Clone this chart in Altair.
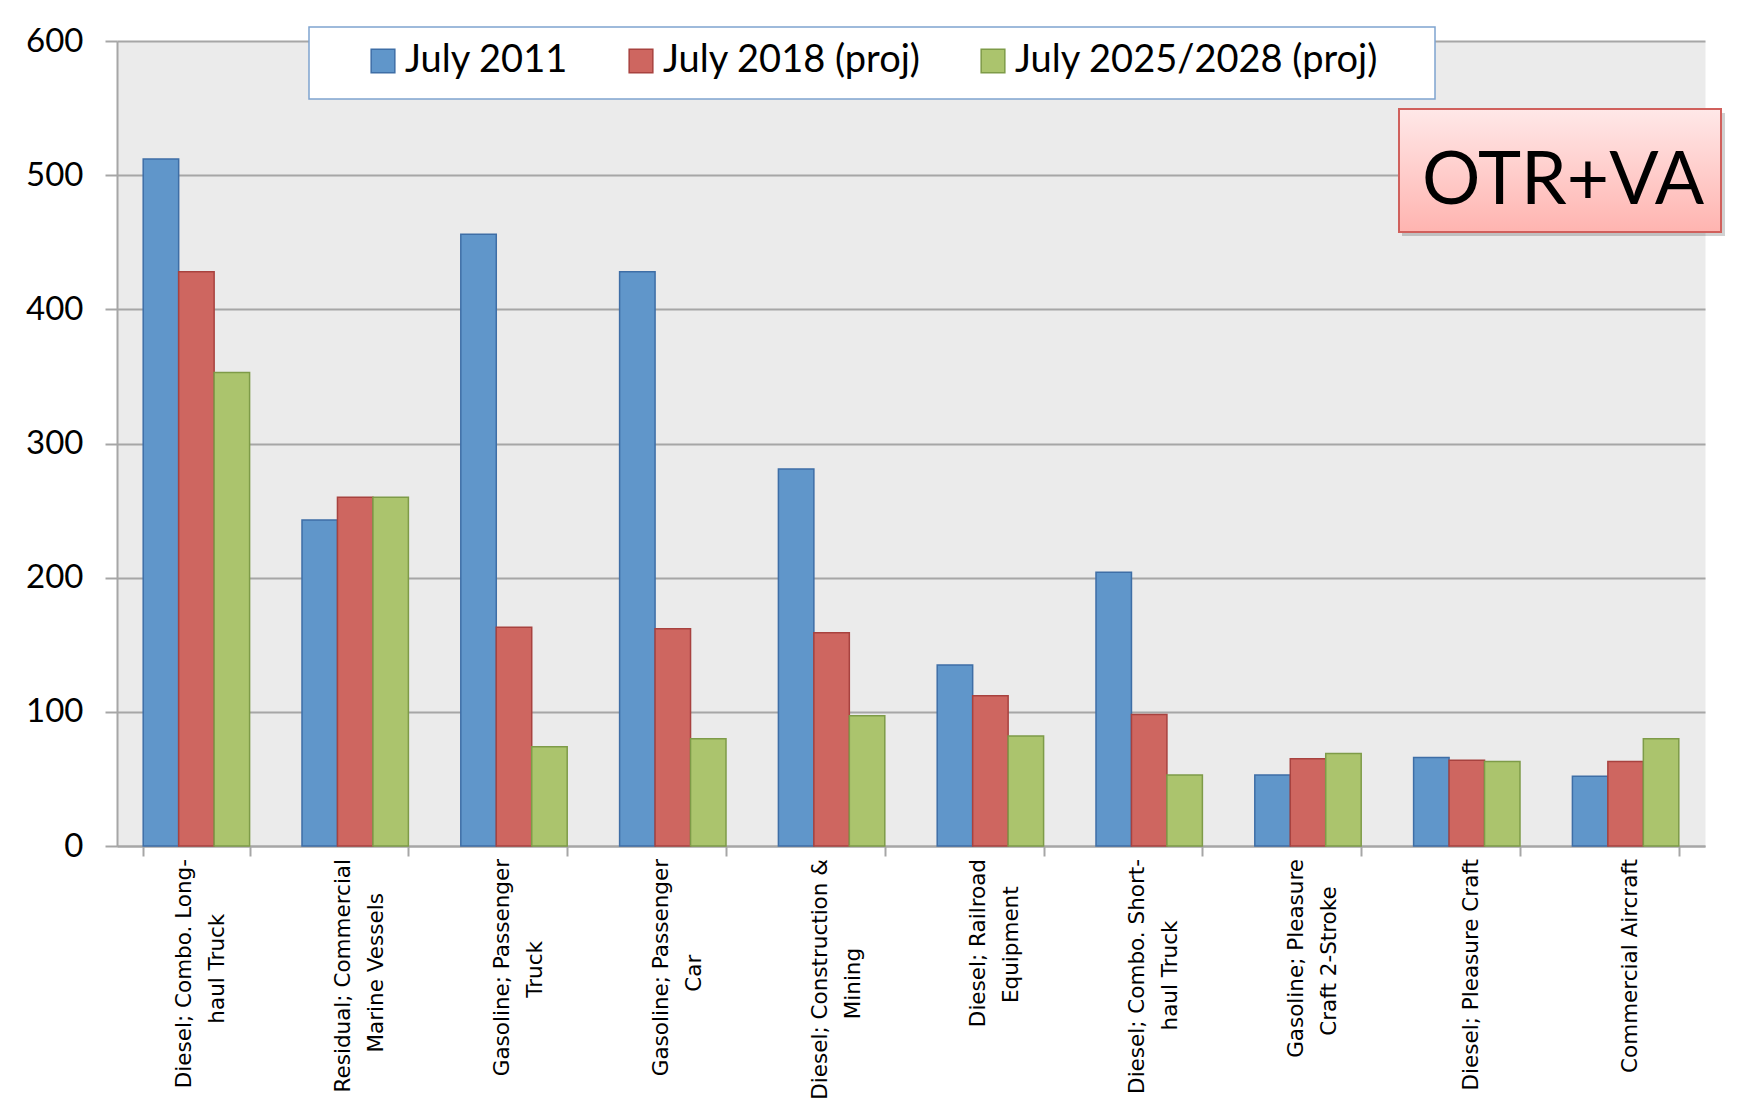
import altair as alt
import pandas as pd

# ---------------- data ----------------
category_lines = [
    ["Diesel; Combo. Long-", "haul Truck"],
    ["Residual; Commercial", "Marine Vessels"],
    ["Gasoline; Passenger", "Truck"],
    ["Gasoline; Passenger", "Car"],
    ["Diesel; Construction &", "Mining"],
    ["Diesel; Railroad", "Equipment"],
    ["Diesel; Combo. Short-", "haul Truck"],
    ["Gasoline; Pleasure", "Craft 2-Stroke"],
    ["Diesel; Pleasure Craft"],
    ["Commercial Aircraft"],
]
series = ["July 2011", "July 2018 (proj)", "July 2025/2028 (proj)"]
v2011 = [512, 243, 456, 428, 281, 135, 204, 53, 66, 52]
v2018 = [428, 260, 163, 162, 159, 112, 98, 65, 64, 63]
v2025 = [353, 260, 74, 80, 97, 82, 53, 69, 63, 80]
y_ticks = [0, 100, 200, 300, 400, 500, 600]
badge_text = ["OTR+VA"]

fills = ["#6096ca", "#ce6660", "#abc46d"]
strokes = ["#3e6ea6", "#a8423f", "#7e9b48"]


# rough DejaVu Sans advance widths (em) to centre shorter label lines
def est_width(s):
    w = 0.0
    for ch in s:
        if ch in "il;.:,'|!":
            w += 0.30
        elif ch in " ":
            w += 0.318
        elif ch in "frt":
            w += 0.40
        elif ch in "-":
            w += 0.36
        elif ch.isupper():
            w += 0.72
        elif ch in "mw":
            w += 0.95
        elif ch == "&":
            w += 0.78
        else:
            w += 0.61
    return w


# pad shorter lines with no-break spaces (closed by a zero-width space so
# they are not trimmed) so that the lines of a label are centred
cat_keys = []
for lines in category_lines:
    maxw = max(est_width(l) for l in lines)
    padded = []
    for l in lines:
        n = int(round((maxw - est_width(l)) / 2 / 0.318))
        padded.append(l + ("\u00a0" * n + "\u200b" if n > 0 else ""))
    cat_keys.append("|".join(padded))

rows = []
for i, key in enumerate(cat_keys):
    for s, vals in zip(series, [v2011, v2018, v2025]):
        rows.append({"category": key, "series": s, "value": vals[i]})
df = pd.DataFrame(rows)

lab_df = pd.DataFrame({
    "category": cat_keys,
    "nlines": [len(l) for l in category_lines],
})

W, H = 1588, 805
GRID = "#a6a6a6"
LINE_H = 33
LABEL_FS = 21.5

legend = alt.Legend(
    orient="none", legendX=247, legendY=1, direction="horizontal", title=None,
    symbolType="square", symbolSize=560, symbolStrokeWidth=1.5,
    labelFont="Lato", labelFontSize=38, labelColor="#000000",
    columnPadding=53, labelOffset=3, labelLimit=500, padding=0,
)

x_enc = alt.X(
    "category:N", sort=cat_keys, title=None,
    scale=alt.Scale(paddingInner=0.33, paddingOuter=0.165),
    axis=alt.Axis(
        labels=False, tickBand="extent", tickSize=10, tickColor=GRID,
        tickWidth=2, domainColor=GRID, domainWidth=2, grid=False,
    ),
)

bars = alt.Chart(df).mark_bar(strokeWidth=1.5).encode(
    x=x_enc,
    xOffset=alt.XOffset("series:N", sort=series,
                        scale=alt.Scale(paddingInner=0, paddingOuter=0)),
    y=alt.Y(
        "value:Q", title=None,
        scale=alt.Scale(domain=[0, 600], nice=False),
        axis=alt.Axis(
            values=y_ticks, labelFont="Lato", labelFontSize=33,
            labelColor="#000000", labelPadding=22, tickSize=12,
            tickColor=GRID, tickWidth=2, domainColor=GRID, domainWidth=2,
            gridColor=GRID, gridWidth=2,
        ),
    ),
    fill=alt.Fill("series:N", sort=series,
                  scale=alt.Scale(domain=series, range=fills), legend=legend),
    stroke=alt.Stroke("series:N", sort=series,
                      scale=alt.Scale(domain=series, range=strokes), legend=legend),
)


def label_layer(n, shift):
    return alt.Chart(lab_df).transform_filter(
        alt.datum.nlines == n
    ).transform_calculate(
        lines="split(datum.category, '|')"
    ).mark_text(
        angle=270, align="right", baseline="middle", font="DejaVu Sans",
        fontSize=LABEL_FS, lineHeight=LINE_H, color="#000000", dy=shift,
    ).encode(
        x=alt.X("category:N", sort=cat_keys),
        y=alt.value(H + 13),
        text="lines:N",
    )


labels_two = label_layer(2, -LINE_H / 2 + 5.5)
labels_one = label_layer(1, 5)

one = pd.DataFrame({"t": badge_text})

legend_box = alt.Chart(one).mark_rect(
    fill="#ffffff", stroke="#7fa4d0", strokeWidth=1.5
).encode(
    x=alt.value(192), x2=alt.value(1318), y=alt.value(-14), y2=alt.value(58)
)

badge_shadow = alt.Chart(one).mark_rect(
    fill="#000000", opacity=0.18
).encode(
    x=alt.value(1285), x2=alt.value(1608), y=alt.value(72), y2=alt.value(195)
)

badge = alt.Chart(one).mark_rect(
    fill=alt.LinearGradient(
        gradient="linear", x1=0, x2=0, y1=0, y2=1,
        stops=[alt.GradientStop(color="#ffe8e8", offset=0),
               alt.GradientStop(color="#ffb4b0", offset=1)],
    ),
    stroke="#d0605c", strokeWidth=2,
).encode(
    x=alt.value(1282), x2=alt.value(1604), y=alt.value(68), y2=alt.value(191)
)

badge_label = alt.Chart(one).mark_text(
    font="Lato", fontSize=73, color="#000000", align="center", baseline="middle"
).encode(
    x=alt.value(1446), y=alt.value(141), text="t:N"
)

chart = alt.layer(
    bars, labels_two, labels_one, legend_box, badge_shadow, badge, badge_label
).properties(
    width=W, height=H,
    padding={"left": 17, "top": 17, "right": 5, "bottom": 0},
    background="#ffffff",
).configure_view(fill="#ebebeb", stroke="transparent")

chart.save("out.html", embed_options={"renderer": "svg", "actions": False})
